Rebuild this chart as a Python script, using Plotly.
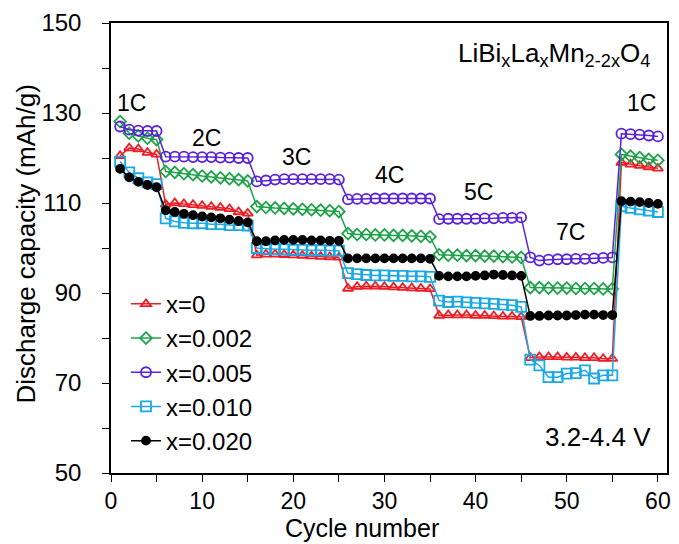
import plotly.graph_objects as go

cycles = list(range(1, 61))

x0 = [120.5, 122.2, 122.0, 121.2, 120.8,
      109.7, 110.0, 109.8, 109.6, 109.4, 109.2, 109.0, 108.7, 108.0, 107.7,
      98.4, 98.6, 98.6, 98.5, 98.4, 98.3, 98.2, 98.1, 98.0, 97.9,
      91.0, 91.4, 91.5, 91.5, 91.4, 91.3, 91.2, 91.1, 91.0, 90.9,
      85.0, 85.1, 85.1, 85.1, 85.0, 85.0, 84.9, 84.8, 84.8, 84.7,
      75.6, 75.8, 75.8, 75.8, 75.7, 75.7, 75.6, 75.6, 75.4, 75.4,
      119.0, 118.6, 118.3, 118.0, 117.7]

x002 = [128.1, 125.5, 124.9, 124.4, 124.1,
        117.0, 116.8, 116.5, 116.3, 116.0, 115.8, 115.6, 115.4, 115.2, 114.9,
        109.2, 109.0, 108.9, 108.8, 108.7, 108.6, 108.5, 108.4, 108.3, 108.1,
        103.2, 103.0, 103.0, 102.9, 102.9, 102.8, 102.8, 102.7, 102.6, 102.5,
        98.5, 98.4, 98.4, 98.3, 98.3, 98.2, 98.2, 98.1, 98.0, 97.9,
        91.2, 91.2, 91.1, 91.1, 91.1, 91.0, 91.0, 91.0, 90.9, 90.9,
        120.8, 120.4, 120.1, 119.7, 119.5]

x005 = [127.0, 126.3, 126.1, 126.0, 126.0,
        120.3, 120.3, 120.3, 120.2, 120.2, 120.2, 120.1, 120.1, 120.0, 120.0,
        114.8, 115.0, 115.2, 115.3, 115.3, 115.3, 115.3, 115.3, 115.3, 115.2,
        110.8, 110.9, 110.9, 111.0, 111.0, 111.0, 111.0, 111.0, 111.0, 111.0,
        106.4, 106.5, 106.5, 106.5, 106.5, 106.6, 106.6, 106.7, 106.7, 106.8,
        97.9, 97.2, 97.4, 97.5, 97.5, 97.6, 97.6, 97.7, 97.8, 97.9,
        125.4, 125.3, 125.2, 125.0, 124.8]

x010 = [119.2, 116.8, 115.5, 114.6, 114.2,
        106.6, 105.9, 105.6, 105.5, 105.5, 105.3, 105.3, 105.1, 105.1, 105.0,
        100.0, 99.8, 99.7, 99.7, 99.6, 99.6, 99.5, 99.5, 99.4, 99.4,
        94.4, 94.2, 94.0, 93.9, 93.9, 93.8, 93.8, 93.7, 93.7, 93.6,
        88.3, 88.0, 88.1, 87.9, 87.8, 87.7, 87.6, 87.4, 87.3, 86.9,
        75.2, 73.9, 71.3, 71.3, 72.1, 72.2, 72.8, 71.0, 71.7, 71.7,
        109.3, 108.9, 108.6, 108.3, 108.0]

x020 = [117.6, 115.7, 114.7, 114.0, 113.5,
        108.4, 108.0, 107.6, 107.3, 107.0, 106.8, 106.6, 106.3, 106.0, 105.7,
        101.5, 101.5, 101.7, 101.8, 101.8, 101.8, 101.7, 101.7, 101.6, 101.6,
        97.7, 97.7, 97.7, 97.7, 97.7, 97.7, 97.7, 97.7, 97.7, 97.6,
        93.8, 93.7, 93.7, 93.7, 93.8, 93.9, 94.1, 94.0, 93.9, 93.8,
        84.9, 84.9, 85.0, 85.0, 85.0, 85.1, 85.2, 85.2, 85.1, 85.1,
        110.4, 110.3, 110.2, 110.0, 109.8]

series_names = ["x=0", "x=0.002", "x=0.005", "x=0.010", "x=0.020"]
series_values = [x0, x002, x005, x010, x020]

rate_labels = ["1C", "2C", "3C", "4C", "5C", "7C", "1C"]
rate_x = [2.3, 10.5, 20.4, 30.5, 40.3, 50.4, 58.2]
rate_y = [132.3, 124.5, 120.3, 116.2, 112.4, 103.5, 132.3]

styles = [
    dict(color="#ee1c24", symbol="triangle-up-open", size=9),
    dict(color="#1fa34a", symbol="diamond-open", size=9),
    dict(color="#5a22dc", symbol="circle-open", size=10),
    dict(color="#1ba9e6", symbol="square-open", size=10),
    dict(color="#000000", symbol="circle", size=8),
]

FONT = "Liberation Sans, Arial, sans-serif"

fig = go.Figure()
for i, (name, vals) in enumerate(zip(series_names, series_values)):
    st = styles[i]
    fig.add_trace(go.Scatter(
        x=cycles, y=vals, name=name, mode="lines+markers",
        line=dict(color=st["color"], width=1.5),
        marker=dict(symbol=st["symbol"], size=st["size"], color=st["color"],
                    line=dict(color=st["color"], width=1.8)),
    ))

annotations = []
for lab, xx, yy in zip(rate_labels, rate_x, rate_y):
    annotations.append(dict(x=xx, y=yy, xref="x", yref="y", text=lab, showarrow=False,
                            xanchor="center", yanchor="middle",
                            font=dict(size=23, color="#000", family=FONT)))

annotations.append(dict(x=59.4, y=143.0, xref="x", yref="y", xanchor="right", yanchor="middle",
                        text="LiBi<sub>x</sub>La<sub>x</sub>Mn<sub>2-2x</sub>O<sub>4</sub>",
                        showarrow=False, font=dict(size=26, color="#000", family=FONT)))
annotations.append(dict(x=59.5, y=58.0, xref="x", yref="y", xanchor="right", yanchor="middle",
                        text="3.2-4.4 V", showarrow=False,
                        font=dict(size=26, color="#000", family=FONT)))
annotations.append(dict(x=-0.153, y=0.51, xref="paper", yref="paper", textangle=-90,
                        xanchor="center", yanchor="middle",
                        text="Discharge capacity (mAh/g)", showarrow=False,
                        font=dict(size=26, color="#000", family=FONT)))
annotations.append(dict(x=0.452, y=-0.122, xref="paper", yref="paper",
                        xanchor="center", yanchor="middle",
                        text="Cycle number", showarrow=False,
                        font=dict(size=25, color="#000", family=FONT)))

fig.update_layout(
    width=679, height=544,
    margin=dict(l=111, r=8, t=23, b=71),
    plot_bgcolor="white", paper_bgcolor="white",
    font=dict(family=FONT, size=24, color="#000"),
    showlegend=True,
    legend=dict(x=0.027, y=0.425, xanchor="left", yanchor="top",
                bgcolor="rgba(0,0,0,0)",
                font=dict(size=24, family=FONT), itemwidth=30),
    annotations=annotations,
)
fig.update_xaxes(range=[0, 61], tickvals=[0, 10, 20, 30, 40, 50, 60],
                 ticks="outside", ticklen=7, tickwidth=1.3, tickcolor="#000",
                 minor=dict(dtick=5, tick0=0, ticks="outside", ticklen=7, tickwidth=1.3, tickcolor="#000"),
                 showline=True, linecolor="#000", linewidth=1.5, mirror=True,
                 showgrid=False, zeroline=False,
                 tickfont=dict(size=23, family=FONT))
fig.update_yaxes(range=[50, 150], tickvals=[50, 70, 90, 110, 130, 150],
                 ticks="outside", ticklen=7, tickwidth=1.3, tickcolor="#000",
                 minor=dict(dtick=10, tick0=50, ticks="outside", ticklen=7, tickwidth=1.3, tickcolor="#000"),
                 showline=True, linecolor="#000", linewidth=1.5, mirror=True,
                 showgrid=False, zeroline=False,
                 ticklabelstandoff=16,
                 tickfont=dict(size=24, family=FONT))

fig.write_html("out.html")
